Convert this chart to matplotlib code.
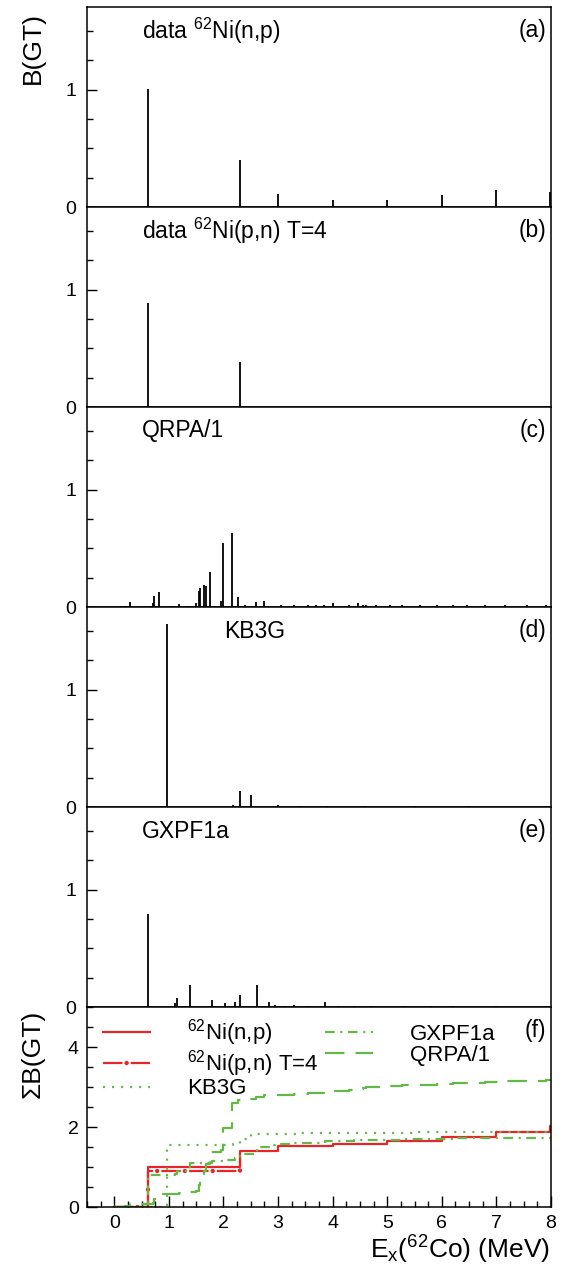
import numpy as np
import matplotlib
matplotlib.use("Agg")
import matplotlib.pyplot as plt
from matplotlib.ticker import MultipleLocator, FixedLocator
from matplotlib.legend_handler import HandlerTuple

plt.rcParams["font.family"] = ["Liberation Sans", "DejaVu Sans"]
plt.rcParams["mathtext.fontset"] = "custom"
plt.rcParams["mathtext.rm"] = "Liberation Sans"
plt.rcParams["mathtext.default"] = "regular"
plt.rcParams["lines.scale_dashes"] = False

RED = "#e8252a"
GREEN = "#62b948"

# B(GT) strengths: energies (MeV) and values
np_e = [0.61, 2.31, 3.00, 4.00, 5.00, 6.00, 7.00, 7.98]
np_b = [1.01, 0.40, 0.11, 0.06, 0.06, 0.10, 0.145, 0.13]

pn_e = [0.61, 2.31]
pn_b = [0.89, 0.385]

qrpa_e = [0.12, 0.20, 0.26, 0.29, 0.68, 0.70, 0.72, 0.82, 1.05, 1.19, 1.35, 1.48,
          1.50, 1.545, 1.575, 1.65, 1.675, 1.76, 1.95, 1.985, 2.16, 2.27, 2.40, 2.60,
          2.75, 3.05, 3.30, 3.55, 3.70, 3.85, 4.00, 4.30, 4.46, 4.55, 4.62, 4.80,
          5.05, 5.27, 5.60, 5.92, 6.20, 6.46, 6.80, 7.16, 7.56, 7.90]
qrpa_b = [0.005, 0.01, 0.012, 0.043, 0.01, 0.03, 0.09, 0.128, 0.005, 0.023, 0.01, 0.01,
          0.03, 0.134, 0.162, 0.19, 0.176, 0.30, 0.05, 0.548, 0.628, 0.085, 0.02, 0.045,
          0.05, 0.018, 0.015, 0.018, 0.015, 0.018, 0.03, 0.015, 0.03, 0.018, 0.018, 0.015,
          0.018, 0.018, 0.015, 0.018, 0.015, 0.018, 0.015, 0.018, 0.018, 0.015]

kb3g_e = [0.96, 2.17, 2.31, 2.51, 3.00, 3.40, 3.90, 4.60, 5.50, 6.50]
kb3g_b = [1.56, 0.014, 0.136, 0.105, 0.014, 0.01, 0.01, 0.01, 0.01, 0.01]

gx_e = [0.61, 1.11, 1.15, 1.39, 1.79, 2.03, 2.22, 2.31, 2.61, 2.84, 2.94, 3.13,
        3.30, 3.55, 3.86, 4.10, 4.40, 4.70, 5.30, 5.80, 6.20, 7.00]
gx_b = [0.796, 0.03, 0.077, 0.185, 0.057, 0.034, 0.043, 0.10, 0.19, 0.04, 0.02, 0.01,
        0.017, 0.01, 0.04, 0.012, 0.012, 0.01, 0.012, 0.01, 0.012, 0.01]

panels = [
    (np_e, np_b, "data $^{62}$Ni(n,p)", 0.118, "(a)"),
    (pn_e, pn_b, "data $^{62}$Ni(p,n) T=4", 0.118, "(b)"),
    (qrpa_e, qrpa_b, "QRPA/1", 0.118, "(c)"),
    (kb3g_e, kb3g_b, "KB3G", 0.295, "(d)"),
    (gx_e, gx_b, "GXPF1a", 0.118, "(e)"),
]

W, H = 565, 1277
fig = plt.figure(figsize=(W / 100, H / 100), dpi=100)
left = 87 / W
width = 464 / W
ph = 200 / H
TXT = 16.5
TICK = 14
TITLE = 19


def style_axis(ax):
    ax.tick_params(axis="both", which="both", direction="in", labelsize=TICK,
                   right=False, top=False, pad=6)
    ax.tick_params(axis="y", which="major", length=7, width=1)
    ax.tick_params(axis="y", which="minor", length=4.5, width=1)
    for s in ax.spines.values():
        s.set_linewidth(1.1)


for i, (e, b, label, lx, tag) in enumerate(panels):
    ax = fig.add_axes([left, 1 - (207 + 200 * i) / H, width, ph])
    ax.vlines(e, 0, b, colors="black", linewidth=1.3)
    ax.set_xlim(-0.5, 8)
    ax.set_ylim(0, 1.705)
    ax.yaxis.set_major_locator(FixedLocator([0, 1]))
    ax.yaxis.set_minor_locator(MultipleLocator(0.25))
    ax.set_yticklabels(["0", "1"])
    ax.tick_params(axis="x", which="both", length=0, labelbottom=False)
    style_axis(ax)
    ax.tick_params(axis="y", pad=8)
    ax.text(lx, 0.88, label, transform=ax.transAxes, fontsize=TXT, va="center", ha="left")
    ax.text(0.99, 0.88, tag, transform=ax.transAxes, fontsize=TXT, va="center", ha="right")

fig.text(33 / W, 1 - 12 / H, "B(GT)", rotation=90, fontsize=TITLE, ha="center", va="top")

# (f) running sums
axf = fig.add_axes([left, 1 - 1207 / H, width, ph])
axf.set_xlim(-0.5, 8)
axf.set_ylim(0, 5)


def running(e, b, xend=8.0):
    x = np.concatenate([[0.0], e, [xend]])
    c = np.cumsum(b)
    y = np.concatenate([[0.0], c, [c[-1]]])
    return x, y


x, y = running(np_e, np_b)
h_np, = axf.step(x, y, where="post", color=RED, lw=1.6)

xp = np.concatenate([[0.0], pn_e])
yp = np.concatenate([[0.0], np.cumsum(pn_b)])
h_pn1, = axf.step(xp, yp, where="post", color=RED, lw=1.6, linestyle=(0, (14, 6)))
h_pn2, = axf.step(xp, yp, where="post", color=RED, lw=3.2,
                  linestyle=(3, (0.01, 19.99)), dash_capstyle="round")

x, y = running(kb3g_e, kb3g_b)
h_kb, = axf.step(x, y, where="post", color=GREEN, lw=1.6, linestyle=(0, (1.5, 5)))

x, y = running(gx_e, gx_b)
h_gx, = axf.step(x, y, where="post", color=GREEN, lw=1.6, linestyle=(0, (7, 4, 1.5, 4)))

x, y = running(qrpa_e, qrpa_b)
h_qr, = axf.step(x, y, where="post", color=GREEN, lw=1.6, linestyle=(0, (14, 8)))

axf.yaxis.set_major_locator(MultipleLocator(2))
axf.yaxis.set_minor_locator(MultipleLocator(0.5))
axf.xaxis.set_major_locator(MultipleLocator(1))
axf.xaxis.set_minor_locator(MultipleLocator(0.25))
style_axis(axf)
axf.tick_params(axis="x", which="major", length=8, width=1)
axf.tick_params(axis="x", which="minor", length=4, width=1)

handles = [h_np, (h_pn1, h_pn2), h_kb, h_gx, h_qr]
labels = ["$^{62}$Ni(n,p)", "$^{62}$Ni(p,n) T=4", "KB3G", "GXPF1a", "QRPA/1"]
axf.legend(handles, labels, ncol=2, loc="upper left", bbox_to_anchor=(0.0, 1.025),
           frameon=False, fontsize=16, handlelength=2.15, handletextpad=1.65,
           columnspacing=0.3, labelspacing=-0.02, borderaxespad=0.3,
           handler_map={tuple: HandlerTuple(ndivide=1)})
axf.text(0.99, 0.88, "(f)", transform=axf.transAxes, fontsize=TXT, va="center", ha="right")

fig.text(33 / W, 1 - 1010 / H, "ΣB(GT)", rotation=90, fontsize=TITLE, ha="center", va="top")
fig.text(550 / W, 1 - 1250 / H, "E$_x$($^{62}$Co) (MeV)", fontsize=TITLE, ha="right", va="center")

fig.savefig("out.png", dpi=100)
